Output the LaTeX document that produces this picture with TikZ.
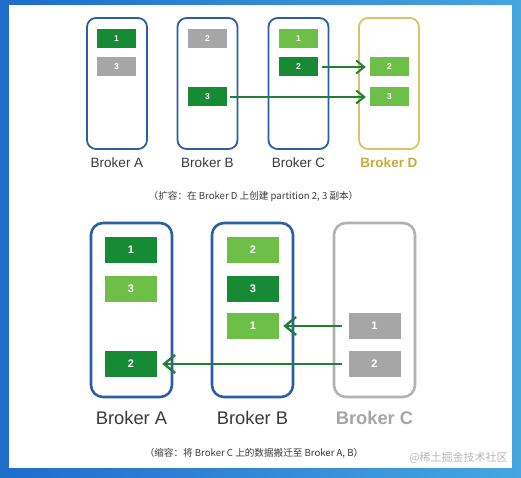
\documentclass[tikz,border=0pt]{standalone}
\usepackage{fontspec}
\setmainfont{Liberation Sans}
\newfontfamily\cjk{Noto Sans CJK SC}
\usetikzlibrary{arrows.meta}
\definecolor{bgL}{HTML}{1F6CCB}
\definecolor{bgR}{HTML}{47A6DF}
\definecolor{dkgreen}{HTML}{178A35}
\definecolor{ltgreen}{HTML}{6DBF48}
\definecolor{pgray}{HTML}{A6A6A6}
\definecolor{bblue}{HTML}{2B5FA5}
\definecolor{gold}{HTML}{D6C467}
\definecolor{goldtxt}{HTML}{C9AC3C}
\definecolor{cgray}{HTML}{B2B2B2}
\definecolor{arrowgreen}{HTML}{237F35}
\definecolor{labeltxt}{HTML}{3A3A3A}
\tikzset{
  brokerS/.style={draw=bblue, line width=1.8pt, rounded corners=9pt, minimum width=60pt, minimum height=131pt, inner sep=0pt},
  brokerL/.style={draw=bblue, line width=2.6pt, rounded corners=12pt, minimum width=81pt, minimum height=174pt, inner sep=0pt},
  partS/.style={minimum width=39pt, minimum height=19pt, inner sep=0pt, text=white, font=\bfseries\fontsize{8.5}{8.5}\selectfont},
  partL/.style={minimum width=52pt, minimum height=26pt, inner sep=0pt, text=white, font=\bfseries\fontsize{11}{11}\selectfont},
  dk/.style={fill=dkgreen},
  lt/.style={fill=ltgreen},
  gr/.style={fill=pgray},
  lblS/.style={text=labeltxt, font=\fontsize{13.5}{13.5}\selectfont, inner sep=0pt},
  lblL/.style={text=labeltxt, font=\fontsize{18.3}{18.3}\selectfont, inner sep=0pt},
  captxt/.style={text=labeltxt, font=\cjk\fontsize{9.6}{9.6}\selectfont, inner sep=0pt},
  mvS/.style={draw=arrowgreen, line width=2pt, -{Straight Barb[length=8pt,width=13pt,line width=2pt]}},
  mvL/.style={draw=arrowgreen, line width=2.4pt, -{Straight Barb[length=11pt,width=18pt,line width=2.4pt]}},
}
\begin{document}
\begin{tikzpicture}[x=1pt,y=-1pt]
\useasboundingbox (0,0) rectangle (521,478);
\shade[left color=bgL, right color=bgR] (0,0) rectangle (521,478);
\fill[white] (9,5) rectangle (512,468);

% ---- top: expansion ----
\node[brokerS] (bA) at (117,83.5) {};
\node[brokerS] (bB) at (207.5,83.5) {};
\node[brokerS] (bC) at (298.5,83.5) {};
\node[brokerS, draw=gold] (bD) at (389,83.5) {};

\node[partS,dk] (a1) at (116.5,38.5) {1};
\node[partS,gr] (a3) at (116.5,67) {3};
\node[partS,gr] (b2) at (207.5,38.5) {2};
\node[partS,dk] (b3) at (207.5,97) {3};
\node[partS,lt] (c1) at (298.5,38.5) {1};
\node[partS,dk] (c2) at (298.5,67) {2};
\node[partS,lt] (d2) at (389.5,67) {2};
\node[partS,lt] (d3) at (389.5,97) {3};

\node[lblS] (lA) at (117,163) {Broker A};
\node[lblS] (lB) at (207.5,163) {Broker B};
\node[lblS] (lC) at (298.5,163) {Broker C};
\node[lblS, text=goldtxt, font=\bfseries\fontsize{13.5}{13.5}\selectfont] (lD) at (389,163) {Broker D};

\draw[mvS, shorten <=4pt, shorten >=4pt] (c2.east) -- (d2.west);
\draw[mvS, shorten <=3pt, shorten >=4pt] (b3.east) -- (d3.west);

\node[captxt] (cap1) at (253.5,196) {（扩容：在 Broker D 上创建 partition 2, 3 副本）};

% ---- bottom: shrink ----
\node[brokerL] (BA) at (131.5,310) {};
\node[brokerL] (BB) at (252.5,310) {};
\node[brokerL, draw=cgray] (BC) at (374.5,310) {};

\node[partL,dk] (A1) at (131,250) {1};
\node[partL,lt] (A3) at (131,288.5) {3};
\node[partL,dk] (A2) at (131,364) {2};
\node[partL,lt] (B2) at (253,250) {2};
\node[partL,dk] (B3) at (253,288.5) {3};
\node[partL,lt] (B1) at (253,326) {1};
\node[partL,gr] (C1) at (374.5,326) {1};
\node[partL,gr] (C2) at (374.5,364) {2};

\node[lblL] (LA) at (131.5,418) {Broker A};
\node[lblL] (LB) at (252.5,418) {Broker B};
\node[lblL, text=pgray, font=\bfseries\fontsize{18.3}{18.3}\selectfont] (LC) at (374.5,418) {Broker C};

\draw[mvL, shorten <=6pt, shorten >=4pt] (C1.west) -- (B1.east);
\draw[mvL, shorten <=6pt, shorten >=5pt] (C2.west) -- (A2.east);

\node[captxt] (cap2) at (254,453) {（缩容：将 Broker C 上的数据搬迁至 Broker A, B）};
\node[text=pgray!80, font=\cjk\fontsize{11}{11}\selectfont, inner sep=0pt] (wm) at (458.5,458) {@稀土掘金技术社区};
\end{tikzpicture}
\end{document}
